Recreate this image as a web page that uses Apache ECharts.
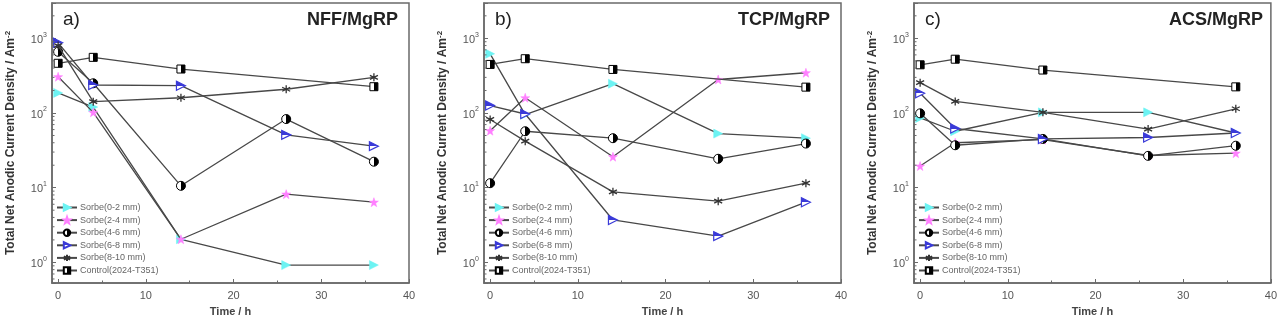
<!DOCTYPE html>
<html><head><meta charset="utf-8">
<script src="https://cdn.jsdelivr.net/npm/echarts@6/dist/echarts.min.js"></script>
<style>html,body{margin:0;padding:0;background:#fff}#c{width:1280px;height:322px}</style>
</head><body><div id="c"></div>
<script>
// ---------- data ----------
const TIMES = [0, 4, 14, 26, 36];
const SERIES_NAMES = ['Sorbe(0-2 mm)', 'Sorbe(2-4 mm)', 'Sorbe(4-6 mm)', 'Sorbe(6-8 mm)', 'Sorbe(8-10 mm)', 'Control(2024-T351)'];
const PANEL_LABELS = ['a)', 'b)', 'c)'];
const PANEL_TITLES = ['NFF/MgRP', 'TCP/MgRP', 'ACS/MgRP'];
const X_TICKS = [0, 10, 20, 30, 40];
const Y_TICKS = [1, 10, 100, 1000];

// panel a) NFF/MgRP
const NFF_S0_2 = [186, 120, 2.04, 0.92, 0.92];
const NFF_S2_4 = [306, 102, 2.04, 8.2, 6.4];
const NFF_S4_6 = [660, 250, 10.6, 83, 22.3];
const NFF_S6_8 = [870, 237, 232, 51, 36];
const NFF_S8_10 = [800, 142, 160, 208, 300];
const NFF_CTRL = [463, 556, 388, null, 225];

// panel b) TCP/MgRP
const TCP_S0_2 = [620, 95, 247, 53, 46];
const TCP_S2_4 = [58, 160, 26, 281, 346];
const TCP_S4_6 = [11.5, 57, 46, 24.4, 39];
const TCP_S6_8 = [126, 97, 3.7, 2.25, 6.4];
const TCP_S8_10 = [82, 42, 8.8, 6.6, 11.5];
const TCP_CTRL = [447, 533, 383, null, 222];

// panel c) ACS/MgRP
const ACS_S0_2 = [86, 57, 102, 102, 54];
const ACS_S2_4 = [19.5, 40, 44, 27, 29];
const ACS_S4_6 = [99, 37, 45, 26.7, 36.5];
const ACS_S6_8 = [184, 62, 45, 47, 54];
const ACS_S8_10 = [255, 143, 102, 61, 114];
const ACS_CTRL = [442, 525, 376, null, 224];

const PANEL_DATA = [
  [NFF_S0_2, NFF_S2_4, NFF_S4_6, NFF_S6_8, NFF_S8_10, NFF_CTRL],
  [TCP_S0_2, TCP_S2_4, TCP_S4_6, TCP_S6_8, TCP_S8_10, TCP_CTRL],
  [ACS_S0_2, ACS_S2_4, ACS_S4_6, ACS_S6_8, ACS_S8_10, ACS_CTRL]
];

// ---------- layout / style ----------
const X_MIN = -0.7, X_MAX = 40;
const Y_MIN = 0.53, Y_MAX = 2970;
const GRIDS = [{left: 52, width: 357}, {left: 484, width: 357}, {left: 914, width: 360}];
const GRID_TOP = 3, GRID_H = 280;
const FONT = 'Arial, "Liberation Sans", sans-serif';
const FRAME = '#6a6a6a';
const LINE = '#484848';

function half(c1, c2, vertical) {
  return {type: 'linear', x: 0, y: 0, x2: vertical ? 0 : 1, y2: vertical ? 1 : 0,
    colorStops: [{offset: 0, color: c1}, {offset: 0.5, color: c1}, {offset: 0.5, color: c2}, {offset: 1, color: c2}]};
}
const STAR = 'path://M0,-10L2.35,-3.24L9.51,-3.09L3.8,1.24L5.88,8.09L0,4L-5.88,8.09L-3.8,1.24L-9.51,-3.09L-2.35,-3.24Z';
const ASTER = 'path://M0,-10L0,10M-8.66,-5L8.66,5M-8.66,5L8.66,-5';
const MARKERS = [
  {symbol: 'triangle', symbolRotate: -90, symbolSize: 9, itemStyle: {color: '#6cf3f3', borderColor: '#6cf3f3', borderWidth: 0.5}},
  {symbol: STAR, symbolSize: 9, itemStyle: {color: '#ff80ff', borderColor: '#ff80ff', borderWidth: 0.5}},
  {symbol: 'circle', symbolSize: 9, itemStyle: {color: half('#ffffff', '#000000'), borderColor: '#000', borderWidth: 1}},
  {symbol: 'triangle', symbolRotate: -90, symbolSize: 9, itemStyle: {color: half('#3a3ad8', '#ffffff'), borderColor: '#3a3ad8', borderWidth: 1.2}},
  {symbol: ASTER, symbolSize: 8, itemStyle: {color: '#333', borderColor: '#333', borderWidth: 1.3}},
  {symbol: 'rect', symbolSize: 8, itemStyle: {color: half('#ffffff', '#000000'), borderColor: '#000', borderWidth: 1}}
];

const MINOR_Y = [];
for (let e = -1; e <= 3; e++) for (let m = 2; m <= 9; m++) {
  const v = m * Math.pow(10, e);
  if (v > Y_MIN && v < Y_MAX) MINOR_Y.push(v);
}

const grid = GRIDS.map(g => ({left: g.left, width: g.width, top: GRID_TOP, height: GRID_H,
  show: true, borderColor: FRAME, borderWidth: 1.5, backgroundColor: 'transparent'}));

const xAxis = GRIDS.map((g, i) => ({
  type: 'value', gridIndex: i, min: X_MIN, max: X_MAX, splitNumber: 4,
  name: 'Time / h', nameLocation: 'middle', nameGap: 23,
  nameTextStyle: {fontFamily: FONT, fontSize: 11, fontWeight: 'bold', color: '#444'},
  axisLine: {show: true, onZero: false, lineStyle: {color: FRAME, width: 1.5}},
  axisTick: {show: true, inside: true, length: 4, lineStyle: {color: FRAME}},
  minorTick: {show: true, splitNumber: 2, length: 2.5, lineStyle: {color: FRAME}},
  splitLine: {show: false},
  axisLabel: {fontFamily: FONT, fontSize: 11, color: '#555', margin: 7,
    formatter: v => (X_TICKS.indexOf(Math.round(v * 1000) / 1000) >= 0 ? String(v) : '')}
}));

const yAxis = GRIDS.map((g, i) => ({
  type: 'log', logBase: 10, gridIndex: i, min: Y_MIN, max: Y_MAX,
  name: 'Total Net Anodic Current Density / Am{s|-2}', nameLocation: 'middle', nameGap: 34,
  nameTextStyle: {fontFamily: FONT, fontSize: 12, fontWeight: 'bold', color: '#333',
    rich: {s: {fontFamily: FONT, fontSize: 8, fontWeight: 'bold', color: '#333', verticalAlign: 'top', lineHeight: 14}}},
  axisLine: {show: true, onZero: false, lineStyle: {color: FRAME, width: 1.5}},
  axisTick: {show: true, inside: true, length: 4, lineStyle: {color: FRAME}},
  minorTick: {show: false},
  splitLine: {show: false},
  axisLabel: {fontFamily: FONT, fontSize: 10, color: '#555', margin: 5,
    formatter: v => {
      const e = Math.log10(v);
      const r = Math.round(e);
      if (Math.abs(e - r) > 1e-6 || Y_TICKS.indexOf(Math.pow(10, r)) < 0) return '';
      return '{b|10}{s|' + r + '}';
    },
    rich: {b: {fontFamily: FONT, fontSize: 11, color: '#555', lineHeight: 14, verticalAlign: 'bottom'},
           s: {fontFamily: FONT, fontSize: 7, color: '#555', lineHeight: 14, verticalAlign: 'top'}}}
}));

const series = [];
PANEL_DATA.forEach((panel, pi) => {
  panel.forEach((vals, si) => {
    const m = MARKERS[si];
    series.push(Object.assign({
      type: 'line', name: SERIES_NAMES[si], xAxisIndex: pi, yAxisIndex: pi,
      data: TIMES.map((t, k) => [t, vals[k] == null ? '-' : vals[k]]),
      connectNulls: true,
      lineStyle: {color: LINE, width: 1.3},
      emphasis: {disabled: true}, animation: false, z: 3 + si
    }, JSON.parse(JSON.stringify(m))));
  });
  series.push({
    type: 'custom', name: 'minorY' + pi, xAxisIndex: pi, yAxisIndex: pi, silent: true, animation: false,
    clip: false, z: 10,
    data: MINOR_Y.map(v => [X_MIN, v]), encode: {x: 0, y: 1},
    renderItem: (params, api) => {
      const p = api.coord([api.value(0), api.value(1)]);
      return {type: 'line', shape: {x1: p[0], y1: p[1], x2: p[0] + 2.5, y2: p[1]},
        style: {stroke: FRAME, lineWidth: 1}};
    }
  });
});

const title = [];
GRIDS.forEach((g, i) => {
  title.push({text: PANEL_LABELS[i], left: g.left + 11, top: 10, padding: 0,
    textStyle: {fontFamily: FONT, fontSize: 19, fontWeight: 'normal', color: '#222'}});
  title.push({text: PANEL_TITLES[i], right: 1280 - (g.left + g.width - 11), top: 11, padding: 0,
    textStyle: {fontFamily: FONT, fontSize: 18, fontWeight: 'bold', color: '#222'}});
});

const legend = GRIDS.map(g => ({
  left: g.left + 4, top: 203, orient: 'vertical', padding: 0,
  itemWidth: 20, itemHeight: 8, itemGap: 3.6, selectedMode: false,
  data: SERIES_NAMES,
  textStyle: {fontFamily: FONT, fontSize: 9, color: '#666', padding: [0, 0, 0, -2]}
}));

const chart = echarts.init(document.getElementById('c'), null, {renderer: 'canvas'});
chart.setOption({animation: false, backgroundColor: '#fff', title, legend, grid, xAxis, yAxis, series});
</script>
</body></html>
